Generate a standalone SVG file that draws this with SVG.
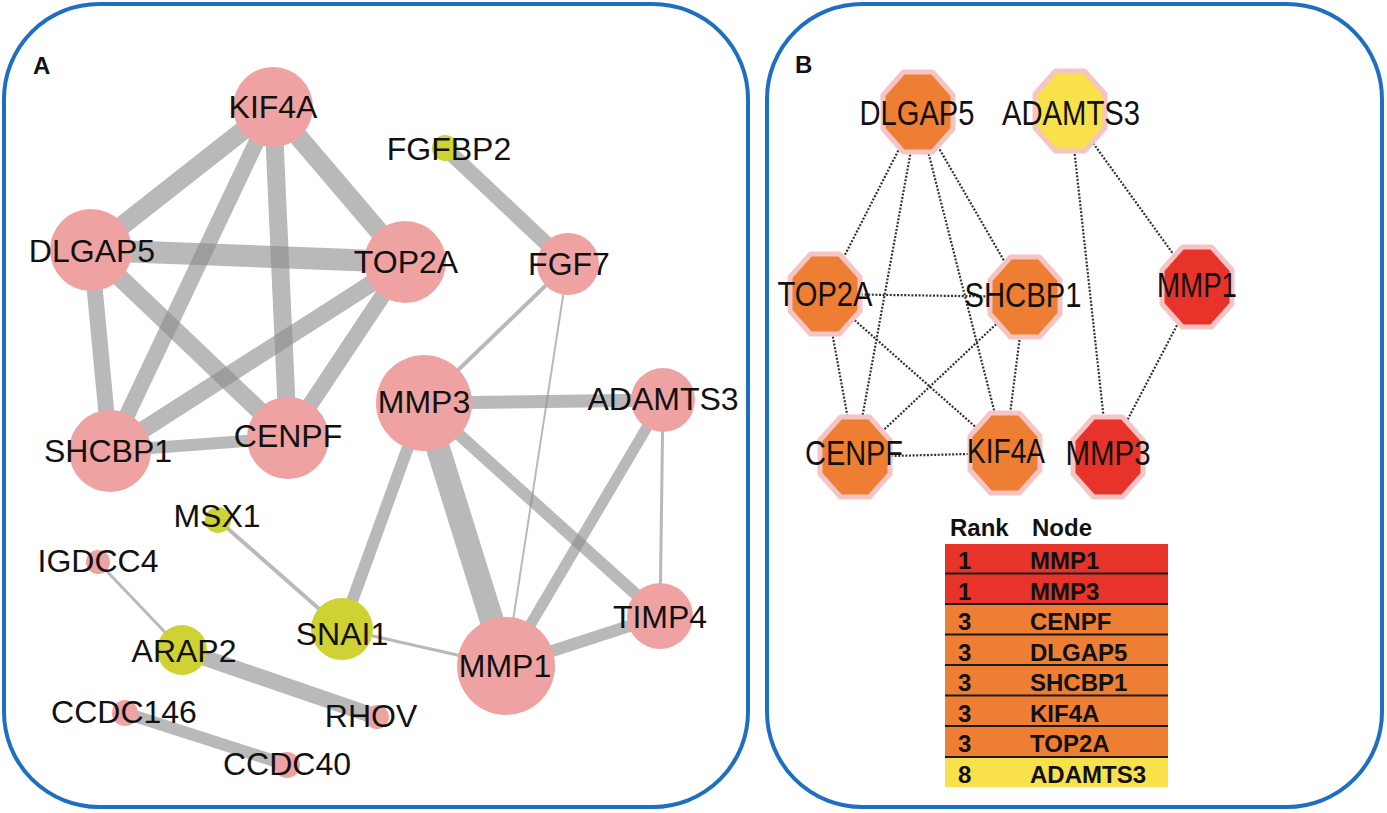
<svg xmlns="http://www.w3.org/2000/svg" width="1387" height="813" viewBox="0 0 1387 813">
<style>
.frame{fill:none;stroke:#1f6fc1;stroke-width:4}
.lbl{font-family:"Liberation Sans",Arial,sans-serif;fill:#111}
.la{font-size:32px;text-anchor:middle}
.lb{font-size:35px;text-anchor:middle}
.panel{font-weight:bold;font-size:24px}
.ea{stroke:#8a8a8a;stroke-opacity:0.6;stroke-linecap:butt;fill:none}
.eb{stroke:#333;stroke-width:2.2;stroke-dasharray:2 1.6;fill:none}
.pink{fill:#eea3a2}
.ygr{fill:#cfd233}
.oct{stroke:#f7c4c4;stroke-width:5;stroke-linejoin:round}
.orange{fill:#ee7e33}
.red{fill:#e8332b}
.yel{fill:#f8e14b}
.tb{font-family:"Liberation Sans",Arial,sans-serif;font-weight:bold;font-size:24px;fill:#111}
</style>
<defs>
<polygon id="octshape" points="-14.5,-40 14.5,-40 35,-17 35,17 14.5,40 -14.5,40 -35,17 -35,-17"/>
</defs>
<rect width="1387" height="813" fill="#fff"/>
<rect class="frame" x="4" y="4" width="744" height="803" rx="95" ry="95"/>
<rect class="frame" x="767" y="4" width="615" height="803" rx="95" ry="95"/>
<text class="lbl panel" x="33" y="74">A</text>
<text class="lbl panel" x="795" y="73">B</text>

<g id="edges-a">
<line class="ea" x1="273" y1="107" x2="91" y2="250" stroke-width="19"/>
<line class="ea" x1="273" y1="107" x2="405" y2="262" stroke-width="19"/>
<line class="ea" x1="273" y1="107" x2="110" y2="451" stroke-width="16"/>
<line class="ea" x1="273" y1="107" x2="288" y2="438" stroke-width="18"/>
<line class="ea" x1="91" y1="250" x2="405" y2="262" stroke-width="22"/>
<line class="ea" x1="91" y1="250" x2="110" y2="451" stroke-width="16"/>
<line class="ea" x1="91" y1="250" x2="288" y2="438" stroke-width="18"/>
<line class="ea" x1="405" y1="262" x2="110" y2="451" stroke-width="17"/>
<line class="ea" x1="405" y1="262" x2="288" y2="438" stroke-width="16"/>
<line class="ea" x1="110" y1="451" x2="288" y2="438" stroke-width="12"/>
<line class="ea" x1="445" y1="148" x2="568" y2="264" stroke-width="15"/>
<line class="ea" x1="568" y1="264" x2="424" y2="403" stroke-width="4"/>
<line class="ea" x1="568" y1="264" x2="506" y2="666" stroke-width="2"/>
<line class="ea" x1="424" y1="403" x2="663" y2="400" stroke-width="13"/>
<line class="ea" x1="424" y1="403" x2="342" y2="629" stroke-width="12"/>
<line class="ea" x1="424" y1="403" x2="506" y2="666" stroke-width="24"/>
<line class="ea" x1="424" y1="403" x2="660" y2="616" stroke-width="12"/>
<line class="ea" x1="663" y1="400" x2="506" y2="666" stroke-width="11"/>
<line class="ea" x1="663" y1="400" x2="660" y2="616" stroke-width="3"/>
<line class="ea" x1="660" y1="616" x2="506" y2="666" stroke-width="12"/>
<line class="ea" x1="342" y1="629" x2="506" y2="666" stroke-width="3"/>
<line class="ea" x1="218" y1="520" x2="342" y2="629" stroke-width="4"/>
<line class="ea" x1="98" y1="562" x2="182" y2="650" stroke-width="3"/>
<line class="ea" x1="182" y1="650" x2="377" y2="717" stroke-width="16"/>
<line class="ea" x1="125" y1="713" x2="287" y2="765" stroke-width="12"/>
</g>

<g id="node-KIF4A"><circle class="pink" cx="273" cy="107" r="40"/><text class="lbl la" x="273" y="118">KIF4A</text></g>
<g id="node-FGFBP2"><circle class="ygr" cx="445" cy="148" r="13"/><text class="lbl la" x="449" y="160">FGFBP2</text></g>
<g id="node-DLGAP5"><circle class="pink" cx="91" cy="250" r="41"/><text class="lbl la" x="92" y="262">DLGAP5</text></g>
<g id="node-TOP2A"><circle class="pink" cx="405" cy="262" r="41"/><text class="lbl la" x="406" y="273">TOP2A</text></g>
<g id="node-FGF7"><circle class="pink" cx="568" cy="264" r="31"/><text class="lbl la" x="569" y="275">FGF7</text></g>
<g id="node-MMP3"><circle class="pink" cx="424" cy="403" r="48"/><text class="lbl la" x="424" y="413">MMP3</text></g>
<g id="node-ADAMTS3"><circle class="pink" cx="663" cy="400" r="32"/><text class="lbl la" x="663" y="410">ADAMTS3</text></g>
<g id="node-SHCBP1"><circle class="pink" cx="110" cy="451" r="41"/><text class="lbl la" x="108" y="462">SHCBP1</text></g>
<g id="node-CENPF"><circle class="pink" cx="288" cy="438" r="41"/><text class="lbl la" x="288" y="447">CENPF</text></g>
<g id="node-MSX1"><circle class="ygr" cx="218" cy="520" r="13"/><text class="lbl la" x="217" y="527">MSX1</text></g>
<g id="node-IGDCC4"><circle class="pink" cx="98" cy="562" r="12"/><text class="lbl la" x="98" y="572">IGDCC4</text></g>
<g id="node-SNAI1"><circle class="ygr" cx="342" cy="629" r="31"/><text class="lbl la" x="342" y="645">SNAI1</text></g>
<g id="node-ARAP2"><circle class="ygr" cx="182" cy="650" r="25"/><text class="lbl la" x="184" y="662">ARAP2</text></g>
<g id="node-RHOV"><circle class="pink" cx="377" cy="717" r="12"/><text class="lbl la" x="371" y="727">RHOV</text></g>
<g id="node-CCDC146"><circle class="pink" cx="125" cy="713" r="13"/><text class="lbl la" x="124" y="723">CCDC146</text></g>
<g id="node-CCDC40"><circle class="pink" cx="287" cy="765" r="13"/><text class="lbl la" x="287" y="775">CCDC40</text></g>
<g id="node-TIMP4"><circle class="pink" cx="660" cy="616" r="33"/><text class="lbl la" x="660" y="628">TIMP4</text></g>
<g id="node-MMP1"><circle class="pink" cx="506" cy="666" r="49"/><text class="lbl la" x="505" y="677">MMP1</text></g>

<g id="edges-b">
<line class="eb" x1="918" y1="112" x2="825" y2="294"/>
<line class="eb" x1="918" y1="112" x2="855" y2="457"/>
<line class="eb" x1="918" y1="112" x2="1005" y2="453"/>
<line class="eb" x1="918" y1="112" x2="1025" y2="297"/>
<line class="eb" x1="825" y1="294" x2="1025" y2="297"/>
<line class="eb" x1="825" y1="294" x2="855" y2="457"/>
<line class="eb" x1="825" y1="294" x2="1005" y2="453"/>
<line class="eb" x1="1025" y1="297" x2="855" y2="457"/>
<line class="eb" x1="1025" y1="297" x2="1005" y2="453"/>
<line class="eb" x1="855" y1="457" x2="1005" y2="453"/>
<line class="eb" x1="1070" y1="111" x2="1197" y2="287"/>
<line class="eb" x1="1070" y1="111" x2="1108" y2="457"/>
<line class="eb" x1="1197" y1="287" x2="1108" y2="457"/>
</g>

<g id="b-DLGAP5"><use href="#octshape" class="oct orange" x="918" y="112"/><text class="lbl lb" x="917" y="125" textLength="115" lengthAdjust="spacingAndGlyphs">DLGAP5</text></g>
<g id="b-ADAMTS3"><use href="#octshape" class="oct yel" x="1070" y="111"/><text class="lbl lb" x="1071" y="125" textLength="138" lengthAdjust="spacingAndGlyphs">ADAMTS3</text></g>
<g id="b-TOP2A"><use href="#octshape" class="oct orange" x="825" y="294"/><text class="lbl lb" x="825" y="306" textLength="95" lengthAdjust="spacingAndGlyphs">TOP2A</text></g>
<g id="b-SHCBP1"><use href="#octshape" class="oct orange" x="1025" y="297"/><text class="lbl lb" x="1023" y="307" textLength="117" lengthAdjust="spacingAndGlyphs">SHCBP1</text></g>
<g id="b-MMP1"><use href="#octshape" class="oct red" x="1197" y="287"/><text class="lbl lb" x="1197" y="297" textLength="80" lengthAdjust="spacingAndGlyphs">MMP1</text></g>
<g id="b-CENPF"><use href="#octshape" class="oct orange" x="855" y="457"/><text class="lbl lb" x="854" y="465" textLength="98" lengthAdjust="spacingAndGlyphs">CENPF</text></g>
<g id="b-KIF4A"><use href="#octshape" class="oct orange" x="1005" y="453"/><text class="lbl lb" x="1006" y="463" textLength="78" lengthAdjust="spacingAndGlyphs">KIF4A</text></g>
<g id="b-MMP3"><use href="#octshape" class="oct red" x="1108" y="457"/><text class="lbl lb" x="1108" y="465" textLength="85" lengthAdjust="spacingAndGlyphs">MMP3</text></g>

<g id="rank-table">
<text class="tb" x="950" y="536">Rank</text>
<text class="tb" x="1032" y="536">Node</text>
<rect x="945" y="544" width="223" height="30" fill="#e8332b"/>
<rect x="945" y="573.5" width="223" height="30.5" fill="#e8332b"/>
<rect x="945" y="604" width="223" height="153" fill="#ee7e33"/>
<rect x="945" y="757" width="223" height="30" fill="#f8e14b"/>
<g stroke="#1a1a1a" stroke-width="2">
<line x1="945" y1="573.5" x2="1168" y2="573.5"/>
<line x1="945" y1="604" x2="1168" y2="604"/>
<line x1="945" y1="634.5" x2="1168" y2="634.5"/>
<line x1="945" y1="665" x2="1168" y2="665"/>
<line x1="945" y1="695.5" x2="1168" y2="695.5"/>
<line x1="945" y1="726" x2="1168" y2="726"/>
<line x1="945" y1="757" x2="1168" y2="757"/>
</g>
<text class="tb" x="958" y="569">1</text><text class="tb" x="1030" y="569">MMP1</text>
<text class="tb" x="958" y="599.5">1</text><text class="tb" x="1030" y="599.5">MMP3</text>
<text class="tb" x="958" y="630">3</text><text class="tb" x="1030" y="630">CENPF</text>
<text class="tb" x="958" y="660.5">3</text><text class="tb" x="1030" y="660.5">DLGAP5</text>
<text class="tb" x="958" y="691">3</text><text class="tb" x="1030" y="691">SHCBP1</text>
<text class="tb" x="958" y="721.5">3</text><text class="tb" x="1030" y="721.5">KIF4A</text>
<text class="tb" x="958" y="752">3</text><text class="tb" x="1030" y="752">TOP2A</text>
<text class="tb" x="958" y="782.5">8</text><text class="tb" x="1030" y="782.5">ADAMTS3</text>
</g>
</svg>
